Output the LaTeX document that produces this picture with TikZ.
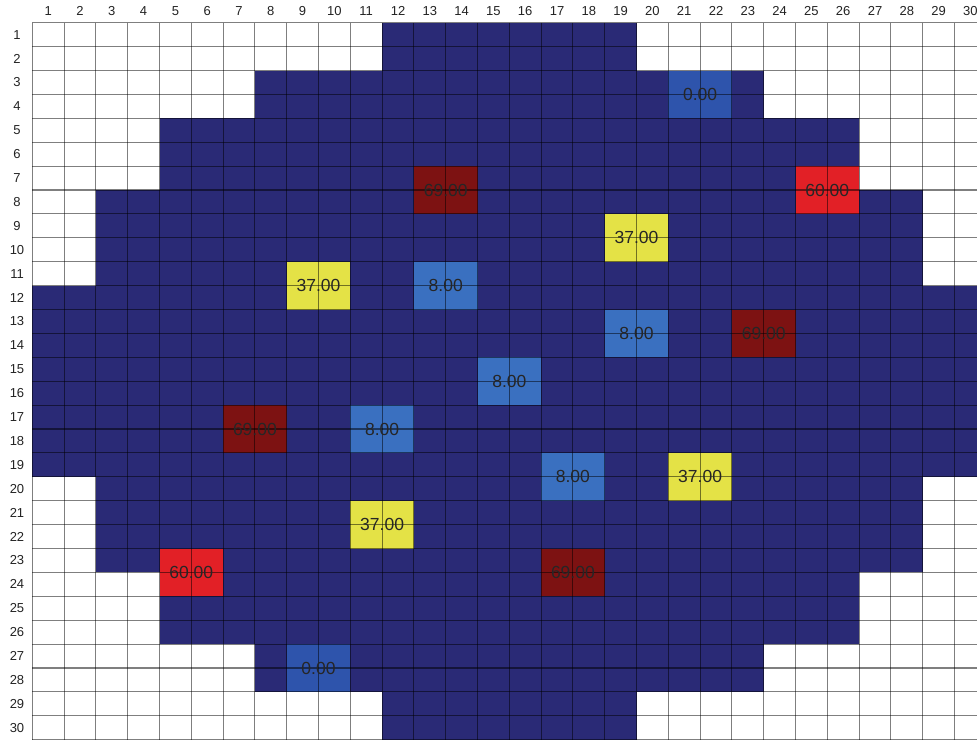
\documentclass[tikz,border=0pt]{standalone}
\usepackage{fontspec}
\setmainfont{Liberation Sans}
\definecolor{core}{RGB}{42,42,118}
\definecolor{hot}{RGB}{125,18,18}
\definecolor{redsix}{RGB}{226,32,38}
\definecolor{yel}{RGB}{228,226,70}
\definecolor{lb}{RGB}{58,112,192}
\definecolor{mb}{RGB}{46,84,172}
\definecolor{lbl}{RGB}{35,35,35}
\begin{document}
\begin{tikzpicture}[x=1pt,y=-1pt,
  gridline/.style={draw=black,opacity=0.5,line width=1.1pt},
  lab/.style={inner sep=0pt,text=lbl,font=\fontsize{13}{15}\selectfont},
  val/.style={inner sep=0pt,text=black!85,font=\fontsize{17.5}{20}\selectfont}]
\def\xo{32.3}\def\w{31.8}\def\yo{22.7}\def\h{23.9}
\clip (0,0) rectangle (977,740);
\fill[white] (0,0) rectangle (977,740);
% core region
\foreach \r/\a/\b in {1/12/19,2/12/19,3/8/23,4/8/23,5/5/26,6/5/26,7/5/26,
  8/3/28,9/3/28,10/3/28,11/3/28,12/1/30,13/1/30,14/1/30,15/1/30,16/1/30,
  17/1/30,18/1/30,19/1/30,20/3/28,21/3/28,22/3/28,23/3/28,24/5/26,25/5/26,
  26/5/26,27/8/23,28/8/23,29/12/19,30/12/19}
  \fill[core] ({\xo+(\a-1)*\w},{\yo+(\r-1)*\h}) rectangle ({\xo+\b*\w},{\yo+\r*\h});
% assemblies
\def\assemblies{21/3/mb/0.00, 13/7/hot/69.00, 25/7/redsix/60.00, 19/9/yel/37.00,
  9/11/yel/37.00, 13/11/lb/8.00, 19/13/lb/8.00, 23/13/hot/69.00, 15/15/lb/8.00,
  7/17/hot/69.00, 11/17/lb/8.00, 17/19/lb/8.00, 21/19/yel/37.00, 11/21/yel/37.00,
  5/23/redsix/60.00, 17/23/hot/69.00, 9/27/mb/0.00}
\foreach \c/\r/\col/\t in \assemblies
  \fill[\col] ({\xo+(\c-1)*\w},{\yo+(\r-1)*\h}) rectangle ({\xo+(\c+1)*\w},{\yo+(\r+1)*\h});
% grid lines
\foreach \i in {0,...,30}{
  \draw[gridline] ({\xo+\i*\w},{\yo}) -- ({\xo+\i*\w},{\yo+30*\h});
  \draw[gridline] ({\xo},{\yo+\i*\h}) -- ({\xo+30*\w},{\yo+\i*\h});
}
% values
\foreach \c/\r/\col/\t [count=\k] in \assemblies
  \node[val] (v\k) at ({\xo+\c*\w},{\yo+\r*\h}) {\t};
% labels
\foreach \i in {1,...,30}{
  \node[lab] (c\i) at ({\xo+(\i-0.5)*\w},11) {\i};
  \node[lab] (r\i) at (17,{\yo+(\i-0.5)*\h}) {\i};
}
\end{tikzpicture}
\end{document}
